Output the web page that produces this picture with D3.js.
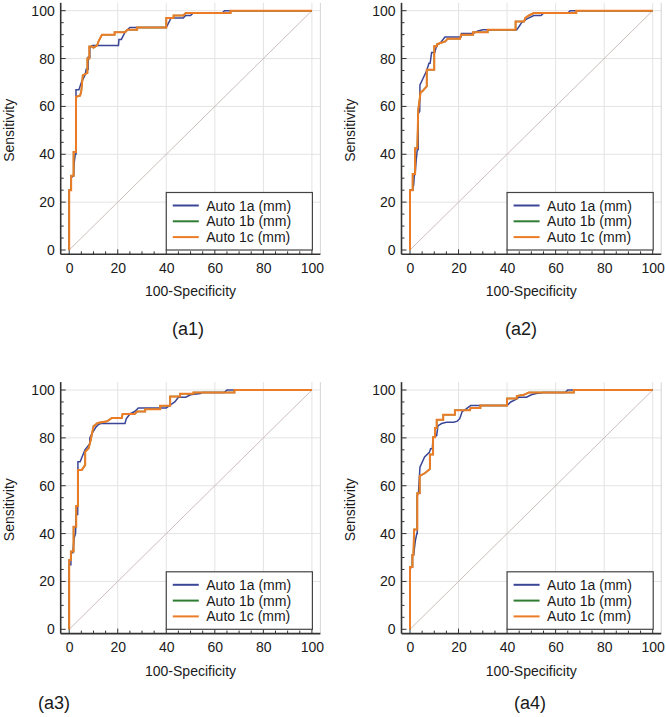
<!DOCTYPE html>
<html><head><meta charset="utf-8">
<script src="https://cdn.jsdelivr.net/npm/d3@7"></script>
<style>body{margin:0;background:#fff}svg{display:block}text{font-family:"Liberation Sans",Arial,sans-serif}</style>
</head><body>
<script>
// ---- data: ROC curve vertices [100-Specificity, Sensitivity] ----
const seriesNames = ["Auto 1a (mm)", "Auto 1b (mm)", "Auto 1c (mm)"];
const panelLabels = ["(a1)", "(a2)", "(a3)", "(a4)"];
const xTicks = [0, 20, 40, 60, 80, 100];
const yTicks = [0, 20, 40, 60, 80, 100];

const a1_auto1a = [[0,0],[0,25],[0.8,25],[0.8,30],[1.5,31],[1.8,31],[2,36],[2.5,40],[2.8,40],[2.8,67],[4,67],[5,70],[6.5,73],[7,75.5],[7.8,75.5],[7.8,80.5],[8.5,80.5],[8.5,84.5],[9.5,85.5],[20.3,85.5],[20.5,88],[21.5,88],[23,91],[25,93],[29,93],[40,93],[41,95],[42,97],[47,97],[48,98],[50,98],[51,99],[63,99],[64,100],[100,100]];
const a1_auto1c = [[0,0],[0,25],[0.8,25],[0.8,31],[1.8,31],[1.8,41],[2.8,41],[2.8,64],[4.5,64.5],[5,66.5],[5.6,73],[7.5,74],[7.5,80],[8.3,80],[8.3,85],[9.5,85],[10,84.5],[11.5,85.5],[12,87],[13,89],[13.5,90],[18.7,90],[18.7,91],[23,91],[24,92],[28,92],[28,93],[40,93],[40,97],[43,97],[43,98],[47,98],[48,99],[66.5,99],[66.5,100],[100,100]];
const a1_auto1b = a1_auto1c;

const a2_auto1a = [[0,0],[0,25],[1.1,25],[1.1,26],[1.5,27],[1.8,31.5],[2.1,31.5],[2.6,38],[3,42],[3.4,42],[3.4,57],[4,58],[4.1,69],[5.5,72],[6.9,75],[7.8,78],[8.3,78],[8.9,82.5],[10.2,82.5],[11,85.5],[12.5,86.5],[14.4,89],[21,89],[21.2,90.5],[26,90.5],[28,91.5],[30,92],[44,92],[45,93.5],[46,95],[48,96.5],[51,98],[54,98],[55,99],[65,99],[66,100],[100,100]];
const a2_auto1c = [[0,0],[0,25],[1.1,25],[1.1,31.8],[2.1,31.8],[2.1,42.5],[3.0,42.5],[3.4,58.6],[4.4,66.2],[5,66.2],[6.9,68.4],[6.9,75.3],[10,75.3],[10,85.1],[11.1,85.1],[11.1,86],[12.5,86.5],[14.6,87.2],[15.5,88.3],[20.6,88.3],[21,90],[26,90],[26,91],[32,91],[32,92],[43.5,92],[43.5,95.5],[47,95.5],[47.5,97],[49,98],[51,99],[68.5,99],[68.5,100],[100,100]];
const a2_auto1b = a2_auto1c;

const a3_auto1a = [[0,0],[0,27],[0.7,27],[0.7,32],[1.5,32],[2,38],[2.6,40],[2.9,48],[3.5,48],[3.6,70],[4.5,70],[6.5,75],[8.5,77.5],[8.5,80],[9.5,82],[11,84.5],[12,85.5],[13,86],[23,86],[23.5,88],[25,90],[27,91],[28.5,92.5],[33,92.5],[40,92.5],[42,94],[43.5,95],[45,97],[48,97],[50,98],[54,98.5],[55,99],[64,99],[65,100],[100,100]];
const a3_auto1c = [[0,0],[0,29],[0.7,29],[0.7,32.5],[1.8,32.5],[1.8,42.9],[2.9,42.9],[2.9,51.5],[3.6,51.5],[3.6,66.6],[5.2,66.6],[6.6,68.7],[6.6,74.2],[8,75.7],[8.9,79.2],[10,84.8],[11.7,86.2],[15.6,86.9],[17.6,88.3],[21.7,88.3],[22,90],[27,90],[28,91],[31.3,91],[31.3,92],[37.5,92],[37.5,93.4],[41.6,93.4],[41.6,97.3],[45.7,97.3],[45.7,98.4],[51.2,98.4],[51.2,99],[68.1,99],[68.1,100],[100,100]];
const a3_auto1b = a3_auto1c;

const a4_auto1a = [[0,0],[0,25],[0.5,26],[1,26],[1,31],[1.5,31],[2.2,37],[2.8,40],[3,40],[3,56],[3.5,57],[4.1,67.7],[6,72],[8,74],[8.5,75.5],[9.2,75.5],[9.5,80],[11,81],[11.5,85],[13,86],[15,86.5],[18,86.5],[19.5,87],[20.5,88],[21.5,91],[23,92],[25,93.5],[29.5,93.5],[40,93.5],[41.5,95],[43.5,96],[45,97],[48,97],[50,98],[52,98.5],[55,99],[64,99],[65,100],[100,100]];
const a4_auto1c = [[0,0],[0,26],[1,26],[1,31],[1.4,31],[1.7,41.7],[2.1,41.7],[3.0,41.7],[3.0,56.9],[4,56.9],[4,64.1],[6.2,65.3],[8.2,67],[8.2,73],[9.5,73],[9.5,80.3],[10.3,80.3],[10.3,84.1],[11,84.1],[11,87.6],[13.7,87.6],[13.7,89.7],[18.5,89.7],[18.5,91.5],[24.7,91.5],[25,92.5],[29,92.5],[29,93.5],[40,93.5],[40,96.5],[44,96.5],[44,97.5],[47,98],[49,99],[67.5,99],[67.5,100],[100,100]];
const a4_auto1b = a4_auto1c;

const panelData = [
  [a1_auto1a, a1_auto1b, a1_auto1c],
  [a2_auto1a, a2_auto1b, a2_auto1c],
  [a3_auto1a, a3_auto1b, a3_auto1c],
  [a4_auto1a, a4_auto1b, a4_auto1c]
];

// ---- layout ----
const W = 666, H = 717;
const colors = ["#3b4696", "#2f7d32", "#ec7c26"];
const widths = [1.5, 1.5, 2];
const panelPos = [
  {x0: 69.2, y0: 250, labelX: 188, labelY: 329, ylabX: 9},
  {x0: 410, y0: 250, labelX: 521, labelY: 329, ylabX: 350},
  {x0: 69.2, y0: 629.3, labelX: 54, labelY: 703, ylabX: 9},
  {x0: 410, y0: 629.3, labelX: 530, labelY: 703, ylabX: 350}
];
const sx = 2.427, sy = 2.393;

const svg = d3.select("body").append("svg").attr("width", W).attr("height", H);

panelData.forEach((series, i) => {
  const p = panelPos[i];
  const x = d3.scaleLinear().domain([-3.5, 103.5]).range([p.x0 - 3.5 * sx, p.x0 + 103.5 * sx]);
  const y = d3.scaleLinear().domain([-1.8, 103.3]).range([p.y0 + 1.8 * sy, p.y0 - 103.3 * sy]);
  const g = svg.append("g");
  const [xl, xr] = x.range(), [yb, yt] = y.range();

  // grid
  g.selectAll(".vg").data(xTicks.filter(d => d > 0)).join("line")
    .attr("x1", d => x(d)).attr("x2", d => x(d)).attr("y1", yb).attr("y2", yt)
    .attr("stroke", "#e3e3e3").attr("stroke-width", 1);
  g.selectAll(".hg").data(yTicks.filter(d => d > 0)).join("line")
    .attr("y1", d => y(d)).attr("y2", d => y(d)).attr("x1", xl).attr("x2", xr)
    .attr("stroke", "#e3e3e3").attr("stroke-width", 1);
  g.append("line").attr("x1", xr).attr("x2", xr).attr("y1", yb).attr("y2", yt).attr("stroke", "#d6d6d6");

  // diagonal reference
  g.append("line").attr("x1", x(0)).attr("y1", y(0)).attr("x2", x(100)).attr("y2", y(100))
    .attr("stroke", "#cdbdbd").attr("stroke-width", 1);

  // axes
  const ax = g.append("g").attr("transform", `translate(0,${yb})`)
    .call(d3.axisBottom(x).tickValues(xTicks).tickSize(0).tickPadding(6));
  ax.select(".domain").remove();
  ax.selectAll("text").attr("font-size", 14).attr("fill", "#1a1a1a").attr("dy", "0.9em");
  const ay = g.append("g").attr("transform", `translate(${xl},0)`)
    .call(d3.axisLeft(y).tickValues(yTicks).tickSize(0).tickPadding(6));
  ay.select(".domain").remove();
  ay.selectAll("text").attr("font-size", 14).attr("fill", "#1a1a1a");

  g.append("line").attr("x1", xl).attr("x2", xr).attr("y1", yb).attr("y2", yb).attr("stroke", "#333").attr("stroke-width", 1.6);
  g.append("line").attr("x1", xl).attr("x2", xl).attr("y1", yb).attr("y2", yt).attr("stroke", "#333").attr("stroke-width", 1.6);
  const minor = d3.range(0, 101, 5);
  g.selectAll(".xt").data(minor).join("line")
    .attr("x1", d => x(d)).attr("x2", d => x(d))
    .attr("y1", yb).attr("y2", d => yb - (d % 20 === 0 ? 5 : 3))
    .attr("stroke", "#333").attr("stroke-width", 1);
  g.selectAll(".yt").data(minor).join("line")
    .attr("y1", d => y(d)).attr("y2", d => y(d))
    .attr("x1", xl).attr("x2", d => xl + (d % 20 === 0 ? 5 : 3))
    .attr("stroke", "#333").attr("stroke-width", 1);

  // curves
  const line = d3.line().x(d => x(d[0])).y(d => y(d[1]));
  series.forEach((s, k) => {
    g.append("path").datum(s).attr("d", line).attr("fill", "none")
      .attr("stroke", colors[k]).attr("stroke-width", widths[k]).attr("stroke-linejoin", "miter");
  });

  // legend
  const lx = x(40), ly = y(0);
  const lw = x(100) - lx + 0.5, lh = 57.5;
  const lg = g.append("g");
  lg.append("rect").attr("x", lx).attr("y", ly - lh).attr("width", lw).attr("height", lh)
    .attr("fill", "#fff").attr("stroke", "#444").attr("stroke-width", 1.2);
  seriesNames.forEach((n, k) => {
    const ry = ly - lh + 13 + k * 15.8;
    lg.append("line").attr("x1", lx + 6.5).attr("x2", lx + 32.5).attr("y1", ry).attr("y2", ry)
      .attr("stroke", colors[k]).attr("stroke-width", 2);
    lg.append("text").attr("x", lx + 40).attr("y", ry).attr("dy", "0.36em")
      .attr("font-size", 14).attr("fill", "#1a1a1a").text(n);
  });

  // axis titles
  g.append("text").attr("x", (x(0) + x(100)) / 2).attr("y", yb + 42)
    .attr("text-anchor", "middle").attr("font-size", 14).attr("fill", "#1a1a1a").text("100-Specificity");
  g.append("text").attr("transform", `translate(${p.ylabX},${y(50)}) rotate(-90)`)
    .attr("text-anchor", "middle").attr("dy", "0.35em").attr("font-size", 14).attr("fill", "#1a1a1a").text("Sensitivity");

  // panel label
  g.append("text").attr("x", p.labelX).attr("y", p.labelY).attr("dy", "0.35em")
    .attr("text-anchor", "middle").attr("font-size", 18).attr("fill", "#1a1a1a").text(panelLabels[i]);
});
</script>
</body></html>
